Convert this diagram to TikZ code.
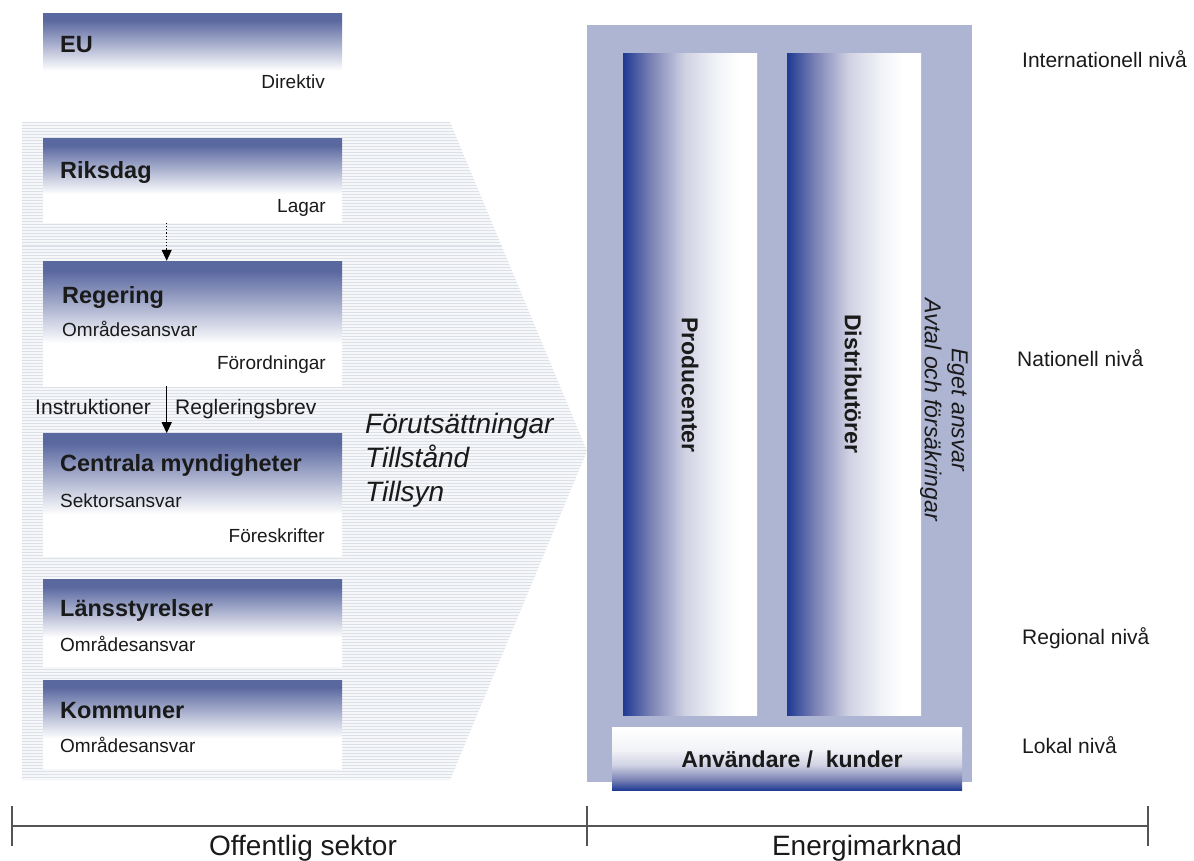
\documentclass[tikz,border=0pt]{standalone}
\usepackage{fontspec}
\setmainfont{Liberation Sans}
\usetikzlibrary{arrows.meta,positioning}
\definecolor{boxtop}{HTML}{5A68A0}
\definecolor{colblue}{HTML}{1F3A93}
\definecolor{colmid}{HTML}{7880B4}
\definecolor{collight}{HTML}{D0D2E3}
\definecolor{colpale}{HTML}{F2F3F7}
\definecolor{marketgrey}{HTML}{ADB5D2}
\definecolor{hatchline}{HTML}{DDE0E8}
\definecolor{hatchfill}{HTML}{F6F7F9}
\definecolor{axisgrey}{HTML}{555555}
\definecolor{ink}{HTML}{1A1A1A}

\pgfdeclareverticalshading{boxfade}{100bp}{color(0bp)=(white); color(42bp)=(white); color(71bp)=(boxtop); color(100bp)=(boxtop)}
\pgfdeclarehorizontalshading{colfade}{100bp}{color(0bp)=(colblue); color(25bp)=(colblue); color(35bp)=(colmid); color(48bp)=(collight); color(60bp)=(colpale); color(68bp)=(white); color(100bp)=(white)}
\pgfdeclareverticalshading{userfade}{100bp}{color(0bp)=(colblue); color(25bp)=(colblue); color(33bp)=(colmid); color(45bp)=(collight); color(57bp)=(colpale); color(75bp)=(white); color(100bp)=(white)}

\begin{document}
\begin{tikzpicture}[
  x=1pt, y=-1pt,
  text=ink,
  govbox/.style={anchor=north west, minimum width=299pt, inner sep=0pt, shade, shading=boxfade},
  boxtitle/.style={font=\fontsize{23.5}{27}\selectfont\bfseries, inner sep=0pt},
  duty/.style={font=\fontsize{19}{22}\selectfont, inner sep=0pt},
  order/.style={font=\fontsize{21}{24}\selectfont, inner sep=0pt},
  level/.style={font=\fontsize{21}{24}\selectfont, anchor=base west, inner sep=0pt},
  column/.style={anchor=north west, minimum width=134pt, minimum height=662pt, inner sep=0pt, shade, shading=colfade},
  actor/.style={font=\fontsize{23}{27}\selectfont\bfseries, rotate=-90, inner sep=0pt},
  sector/.style={font=\fontsize{28}{32}\selectfont, anchor=base, inner sep=0pt},
  flow/.style={-{Triangle[length=11pt,width=10pt]}, line width=1.2pt},
  weak/.style={flow, dotted},
  axisline/.style={draw=axisgrey, line width=1.6pt}
]
\useasboundingbox (0,0) rectangle (1194,861);

\begin{scope}
  \clip (22,122) -- (450,122) -- (587,451) -- (450,780) -- (22,780) -- cycle;
  \fill[hatchfill] (22,122) rectangle (590,780);
  \foreach \y in {123,126,...,780}
    \draw[hatchline, line width=1pt] (22,\y) -- (590,\y);
\end{scope}

\node[govbox, minimum height=87pt] (eu) at (43,13) {};
\node[govbox, minimum height=84pt, below=38pt of eu] (riksdag) {};
\node[govbox, minimum height=125pt, below=38pt of riksdag] (regering) {};
\node[govbox, minimum height=123pt, below=47pt of regering] (centrala) {};
\node[govbox, minimum height=87pt, below=23pt of centrala] (lans) {};
\node[govbox, minimum height=88pt, below=13pt of lans] (kommuner) {};

\node[boxtitle, anchor=base west] (eutitle) at (60,53) {EU};
\node[duty, anchor=base east] (direktiv) at (325,89) {Direktiv};
\node[boxtitle, anchor=base west] (riksdagtitle) at (60,179) {Riksdag};
\node[duty, anchor=base east] (lagar) at (326,213) {Lagar};
\node[boxtitle, anchor=base west] (regeringtitle) at (62,303) {Regering};
\node[duty, anchor=base west] (regeringduty) at (62,336) {Områdesansvar};
\node[duty, anchor=base east] (forordningar) at (326,369) {Förordningar};
\node[boxtitle, anchor=base west] (centralatitle) at (60,471) {Centrala myndigheter};
\node[duty, anchor=base west] (centraladuty) at (60,507) {Sektorsansvar};
\node[duty, anchor=base east] (foreskrifter) at (325,542) {Föreskrifter};
\node[boxtitle, anchor=base west] (lanstitle) at (60,616) {Länsstyrelser};
\node[duty, anchor=base west] (lansduty) at (60,651) {Områdesansvar};
\node[boxtitle, anchor=base west] (kommunertitle) at (60,718) {Kommuner};
\node[duty, anchor=base west] (kommunerduty) at (60,752) {Områdesansvar};

\draw[weak] ([xshift=-26pt]riksdag.south) -- ([xshift=-26pt]regering.north);
\draw[flow] ([xshift=-26pt]regering.south) -- ([xshift=-26pt]centrala.north);
\node[order, anchor=base east] (instruktioner) at (151,414) {Instruktioner};
\node[order, anchor=base west] (reglering) at (175,414) {Regleringsbrev};

\node[font=\fontsize{28}{34}\selectfont\itshape, align=left, anchor=north west, inner sep=0pt]
  (villkor) at (365,413) {Förutsättningar\\Tillstånd\\Tillsyn};

\node[anchor=north west, fill=marketgrey, minimum width=385pt, minimum height=757pt, inner sep=0pt]
  (market) at (587,25) {};
\node[column] (producer) at (623,53) {};
\node[column] (distributor) at (787,53) {};
\node[anchor=north west, minimum width=350pt, minimum height=63pt, inner sep=0pt, shade, shading=userfade]
  (users) at (612,727) {};
\node[actor] (producertext) at (690,385) {Producenter};
\node[actor] (distributortext) at (853,384) {Distributörer};
\node[font=\fontsize{23}{27}\selectfont\itshape, rotate=-90, align=center, inner sep=0pt]
  (ansvar) at (944,410) {Eget ansvar\\Avtal och försäkringar};
\node[font=\fontsize{23}{27}\selectfont\bfseries, inner sep=0pt] (userstext) at (792,759) {Användare / \ kunder};

\node[level] (intlevel) at (1022,68) {Internationell nivå};
\node[level] (natlevel) at (1017,366) {Nationell nivå};
\node[level] (reglevel) at (1022,644) {Regional nivå};
\node[level] (loclevel) at (1022,753) {Lokal nivå};

\coordinate (axl) at (12,826);
\coordinate (axm) at (587,826);
\coordinate (axr) at (1148,826);
\draw[axisline] (axl) -- (axr);
\foreach \t in {axl,axm,axr}
  \draw[axisline] ([yshift=20pt]\t) -- ([yshift=-20pt]\t);
\node[sector] (offlabel) at (303,855) {Offentlig sektor};
\node[sector] (marketlabel) at (867,855) {Energimarknad};

\end{tikzpicture}
\end{document}
